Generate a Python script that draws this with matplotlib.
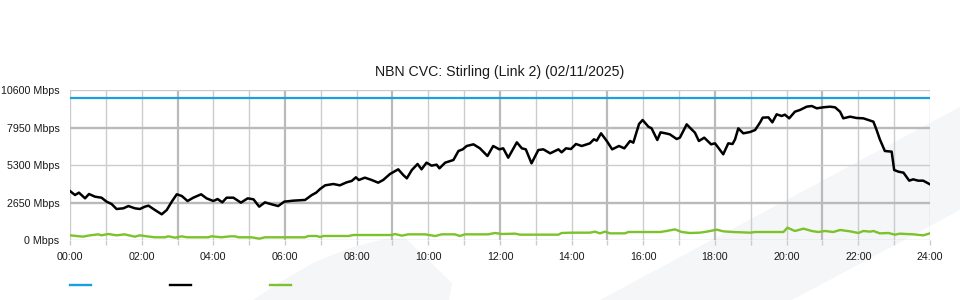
import matplotlib
matplotlib.use("Agg")
import matplotlib.pyplot as plt
from matplotlib.patches import Polygon
from matplotlib.lines import Line2D

plt.rcParams['font.family'] = ['Liberation Sans', 'DejaVu Sans']

title = "NBN CVC: Stirling (Link 2) (02/11/2025)"

# capacity (blue)
cap_hours = [0.0, 24.0]
cap_values = [10000, 10000]

# traffic (black)
traffic_hours = [
    0.00, 0.14, 0.25, 0.42, 0.53, 0.70, 0.88, 1.02, 1.16, 1.30, 1.49, 1.63, 1.81, 1.95,
    2.09, 2.19, 2.37, 2.56, 2.70, 2.84, 2.98, 3.12, 3.28, 3.44, 3.66, 3.81, 4.00, 4.12,
    4.25, 4.37, 4.56, 4.77, 4.96, 5.12, 5.28, 5.44, 5.63, 5.81, 5.98, 6.23, 6.56, 6.75,
    6.87, 6.98, 7.12, 7.35, 7.53, 7.72, 7.86, 7.98, 8.06, 8.23, 8.42, 8.60, 8.74, 8.93,
    9.16, 9.30, 9.40, 9.54, 9.70, 9.81, 9.95, 10.09, 10.23, 10.31, 10.47, 10.70, 10.84,
    10.96, 11.07, 11.26, 11.44, 11.65, 11.81, 11.98, 12.09, 12.23, 12.47, 12.61, 12.72,
    12.88, 13.07, 13.21, 13.40, 13.63, 13.72, 13.84, 13.98, 14.12, 14.28, 14.51, 14.62,
    14.70, 14.82, 14.98, 15.13, 15.32, 15.47, 15.63, 15.72, 15.88, 15.98, 16.14, 16.23,
    16.39, 16.48, 16.62, 16.74, 16.93, 17.02, 17.21, 17.30, 17.44, 17.55, 17.70, 17.89,
    18.00, 18.23, 18.37, 18.49, 18.56, 18.65, 18.79, 18.98, 19.12, 19.26, 19.33, 19.49,
    19.60, 19.72, 19.86, 19.95, 20.07, 20.23, 20.37, 20.56, 20.70, 20.84, 21.02, 21.21,
    21.35, 21.49, 21.58, 21.77, 21.95, 22.14, 22.28, 22.42, 22.51, 22.60, 22.74, 22.93,
    23.00, 23.12, 23.26, 23.42, 23.53, 23.67, 23.81, 24.00,
]
traffic_values = [
    3460, 3180, 3345, 2945, 3250, 3060, 2990, 2710, 2545, 2190, 2240, 2400, 2240, 2190,
    2355, 2425, 2120, 1815, 2120, 2710, 3230, 3110, 2755, 2990, 3230, 2945, 2755, 2895,
    2660, 2990, 2990, 2640, 2945, 2875, 2355, 2660, 2520, 2400, 2710, 2780, 2830, 3180,
    3345, 3605, 3863, 3957, 3863, 4075, 4170, 4430, 4240, 4405, 4240, 4050, 4240, 4664,
    4995, 4593, 4358, 4947, 5371, 4995, 5466, 5253, 5324, 5065, 5466, 5653, 6290,
    6407, 6643, 6761, 6478, 5936, 6643, 6407, 6478, 5818, 6901, 6478, 6407,
    5418, 6360, 6407, 6125, 6407, 6195, 6478, 6430, 6784, 6643, 6831, 7114,
    7020, 7538, 6996, 6407, 6643, 6478, 6996, 6878, 8197, 8480, 8009, 7890,
    7067, 7609, 7538, 7467, 7137, 7231, 8173, 7938, 7585, 6996, 7231, 6761,
    6831, 6056, 6831, 6784, 7114, 7890, 7538, 7632, 7773, 8315, 8645, 8669,
    8315, 8881, 8763, 8857, 8598, 9068, 9187, 9422, 9469, 9305, 9376, 9422,
    9376, 9068, 8598, 8716, 8622, 8598, 8480, 8362, 7773, 7114, 6290, 6243,
    4947, 4828, 4758, 4193, 4287, 4193, 4193, 3933,
]

# other direction (green)
green_hours = [
    0.00, 0.36, 0.56, 0.79, 0.88, 1.07, 1.30, 1.52, 1.81, 1.95, 2.14, 2.37, 2.65, 2.74,
    2.93, 3.12, 3.26, 3.86, 3.95, 4.23, 4.47, 4.60, 4.70, 5.07, 5.28, 5.44, 6.56, 6.65,
    6.88, 6.98, 7.07, 7.77, 7.91, 8.98, 9.07, 9.26, 9.44, 9.91, 10.19, 10.37, 10.74,
    10.88, 11.02, 11.67, 11.86, 12.05, 12.42, 12.56, 13.63, 13.72, 14.00, 14.51, 14.65,
    14.79, 14.93, 15.07, 15.49, 15.58, 16.47, 16.65, 16.88, 17.07, 17.30, 17.58, 17.77,
    18.05, 18.23, 18.51, 18.98, 19.12, 19.91, 20.02, 20.23, 20.47, 20.70, 20.88, 21.07,
    21.30, 21.49, 21.77, 22.00, 22.14, 22.33, 22.42, 22.60, 22.84, 23.02, 23.16, 23.53,
    23.81, 24.00,
]
green_values = [
    330, 236, 330, 400, 330, 424, 330, 400, 236, 330, 260, 190, 190, 260,
    166, 260, 190, 190, 260, 190, 260, 260, 190, 190, 94, 190, 190, 283,
    283, 212, 283, 283, 353, 353, 424, 306, 400, 400, 283, 400, 400,
    283, 400, 400, 495, 424, 448, 377, 377, 495, 518, 518, 589,
    471, 589, 471, 471, 565, 565, 636, 753, 565, 495, 518, 589,
    730, 612, 565, 518, 565, 565, 871, 636, 801, 636, 565, 636,
    565, 706, 612, 495, 636, 589, 636, 471, 495, 377, 448, 400,
    330, 471,
]

y_ticks = [0, 2650, 5300, 7950, 10600]
y_labels = [f"{v} Mbps" for v in y_ticks]
x_label_hours = list(range(0, 25, 2))
x_labels = [f"{h:02d}:00" for h in x_label_hours]

BLUE = "#1a9fe0"
GREEN = "#7cc22a"
BLACK = "#000000"
LIGHT = "#cccccc"
DARK = "#bababa"
WM = "#f5f6f8"

W, H = 960, 300
fig = plt.figure(figsize=(W / 100, H / 100), dpi=100)
fig.patch.set_facecolor("white")

def fx(px):
    return px / W

def fy(py):
    return 1 - py / H

# background watermark shapes
shape1 = [(253, 300), (280, 282), (315, 262), (350, 248), (385, 239), (405, 238),
          (452, 283), (449, 300)]
shape2 = [(600, 300), (960, 107), (960, 210), (792, 300)]
for shp in (shape1, shape2):
    fig.patches.append(Polygon([(fx(a), fy(b)) for a, b in shp], closed=True,
                               transform=fig.transFigure, facecolor=WM,
                               edgecolor="none", zorder=-5))

ax = fig.add_axes([fx(70), fy(240), fx(930) - fx(70), fy(90) - fy(240)])
ax.set_zorder(2)
ax.set_facecolor("none")
ax.set_xlim(0, 24)
ax.set_ylim(0, 10600)
for s in ax.spines.values():
    s.set_visible(False)

# grid
for h in range(0, 25):
    dark = (h % 3 == 0) and 0 < h < 24
    ax.axvline(h, color=DARK if dark else LIGHT, lw=1.6 if dark else 1.0, zorder=1)
for i, v in enumerate(y_ticks):
    dark = i % 2 == 1
    ax.axhline(v, color=DARK if dark else LIGHT, lw=1.7 if dark else 1.0, zorder=1)

ax.set_xticks(x_label_hours)
ax.set_xticklabels(x_labels)
ax.set_xticks([h for h in range(1, 24, 2)], minor=True)
ax.tick_params(axis="x", which="both", length=3.5, color=LIGHT, width=1.0,
               labelsize=7.7, pad=5, labelcolor="#1a1a1a")
ax.set_yticks(y_ticks)
ax.set_yticklabels(y_labels)
ax.tick_params(axis="y", length=0, labelsize=7.7, pad=7.5, labelcolor="#1a1a1a")

ax.plot(cap_hours, cap_values, color=BLUE, lw=1.6, zorder=3, solid_capstyle="butt")
ax.plot(traffic_hours, traffic_values, color=BLACK, lw=1.8, zorder=4)
ax.plot(green_hours, green_values, color=GREEN, lw=1.7, zorder=3)

ax.set_title(title, fontsize=10.2, color="#1a1a1a", pad=10)

# legend swatches (no labels)
for x0, c in ((70, BLUE), (170, BLACK), (270, GREEN)):
    fig.add_artist(Line2D([fx(x0), fx(x0 + 21)], [fy(285), fy(285)],
                          transform=fig.transFigure, color=c, lw=1.7))

fig.savefig("out.png", dpi=100, facecolor="white")
